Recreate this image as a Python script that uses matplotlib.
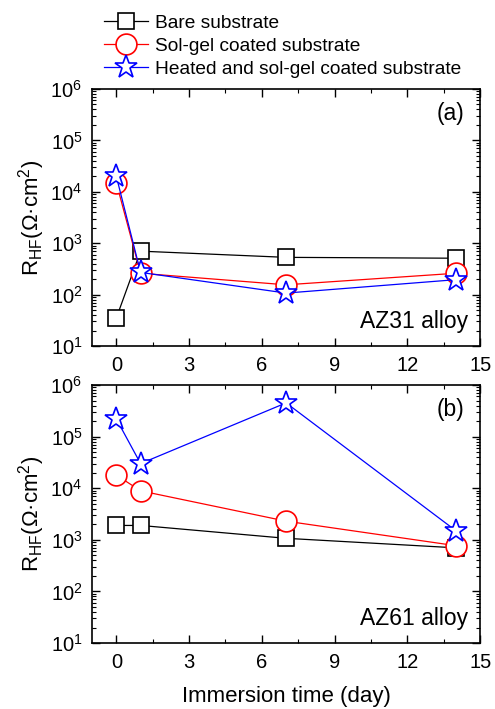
import matplotlib
matplotlib.use("Agg")
import matplotlib.pyplot as plt
from matplotlib.ticker import LogLocator, MultipleLocator, FixedLocator, NullFormatter

plt.rcParams["font.family"] = ["Liberation Sans", "DejaVu Sans"]
plt.rcParams["mathtext.fontset"] = "custom"
plt.rcParams["mathtext.rm"] = "Liberation Sans"
plt.rcParams["mathtext.it"] = "Liberation Sans:italic"

days = [0, 1, 7, 14]

# panel (a) AZ31
a_bare = [35, 700, 530, 510]
a_solgel = [15000, 260, 155, 260]
a_heated = [20000, 270, 107, 195]

# panel (b) AZ61
b_bare = [1900, 1900, 1070, 700]
b_solgel = [18000, 8900, 2300, 770]
b_heated = [220000, 30000, 450000, 1500]

labels = ["Bare substrate", "Sol-gel coated substrate",
          "Heated and sol-gel coated substrate"]
x_ticks = [0, 3, 6, 9, 12, 15]

fig = plt.figure(figsize=(4.95, 7.09), dpi=100)
ax1 = fig.add_axes([0.186, 0.512, 0.784, 0.3625])
ax2 = fig.add_axes([0.186, 0.093, 0.784, 0.364])

styles = [
    dict(color="black", marker="s", ms=12),
    dict(color="red", marker="o", ms=15),
    dict(color="blue", marker="*", ms=17),
]


def draw(ax, series, tag, alloy):
    handles = []
    for ys, st, lab in zip(series, styles, labels):
        h, = ax.plot(days, ys, color=st["color"], lw=0.9, marker=st["marker"],
                     ms=st["ms"], mfc="white", mec=st["color"], mew=1.2,
                     label=lab)
        handles.append(h)
    ax.set_yscale("log")
    ax.set_ylim(10, 1e6)
    ax.set_xlim(-1, 15)
    ax.xaxis.set_major_locator(FixedLocator(x_ticks))
    ax.xaxis.set_minor_locator(MultipleLocator(1.5))
    ax.yaxis.set_major_locator(LogLocator(base=10, numticks=10))
    ax.yaxis.set_minor_locator(LogLocator(base=10, subs=range(2, 10), numticks=20))
    ax.yaxis.set_minor_formatter(NullFormatter())
    ax.tick_params(which="major", direction="in", length=6, width=1,
                   labelsize=14.5, top=True, right=True, pad=7)
    ax.tick_params(which="minor", direction="in", length=3, width=0.8,
                   top=True, right=True)
    for s in ax.spines.values():
        s.set_linewidth(1.2)
    ax.set_ylabel(r"R$_{\rm HF}$(Ω·cm$^2$)", fontsize=16, labelpad=2)
    ax.text(0.96, 0.95, tag, transform=ax.transAxes, ha="right", va="top",
            fontsize=16.5)
    ax.text(0.97, 0.05, alloy, transform=ax.transAxes, ha="right",
            va="bottom", fontsize=16.5)
    return handles


handles = draw(ax1, [a_bare, a_solgel, a_heated], "(a)", "AZ31 alloy")
draw(ax2, [b_bare, b_solgel, b_heated], "(b)", "AZ61 alloy")
ax2.set_xlabel("Immersion time (day)", fontsize=16, labelpad=10)

fig.legend(handles=handles, loc="upper left", bbox_to_anchor=(0.195, 0.99),
           frameon=False, fontsize=13.8, handlelength=2.3, handletextpad=0.35,
           labelspacing=0.28, borderaxespad=0)

fig.savefig("out.png", dpi=100)
